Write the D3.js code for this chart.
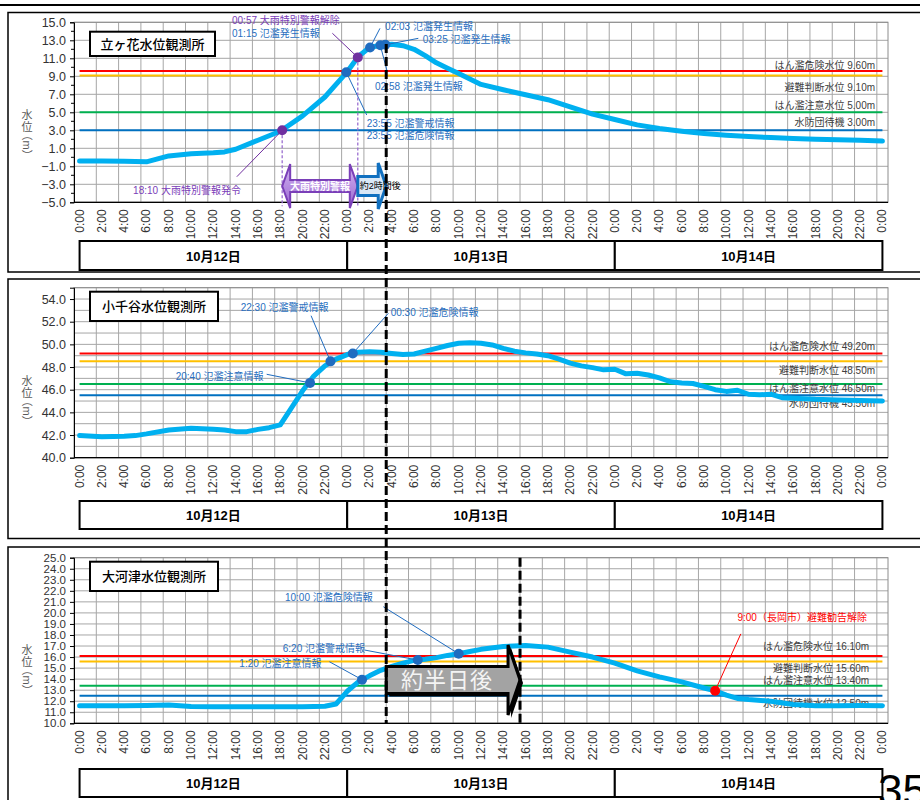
<!DOCTYPE html>
<html>
<head>
<meta charset="utf-8">
<script src="https://cdn.jsdelivr.net/npm/d3@7"></script>
<style>
  body { margin: 0; background: #fff; }
  svg { display: block; font-family: "Liberation Sans", "Noto Sans CJK JP", sans-serif; }
</style>
</head>
<body>
<svg width="920" height="800"></svg>
<script>
// hours counted from 10/12 0:00
const dayHours = ["0:00", "2:00", "4:00", "6:00", "8:00", "10:00", "12:00", "14:00", "16:00", "18:00", "20:00", "22:00"];
const timeLabels = [...dayHours, ...dayHours, ...dayHours, "0:00"];
const dayLabels = ["10月12日", "10月13日", "10月14日"];
const stationNames = ["立ヶ花水位観測所", "小千谷水位観測所", "大河津水位観測所"];

// 立ヶ花
const hoursA = [0, 2, 4, 6, 8, 10, 12, 13, 14, 16, 18, 20, 22, 23, 24, 25, 26, 27, 28, 29, 30, 31, 32, 33, 34, 36, 38, 40, 42, 44, 46, 48, 50, 52, 54, 56, 58, 60, 62, 64, 66, 68, 70, 72];
const levelA = [-0.4, -0.4, -0.45, -0.5, 0.15, 0.4, 0.5, 0.6, 0.9, 1.9, 2.9, 4.6, 6.7, 8.1, 9.5, 11.2, 12.2, 12.45, 12.55, 12.4, 12.0, 11.3, 10.5, 9.9, 9.3, 8.1, 7.5, 6.95, 6.4, 5.6, 4.8, 4.2, 3.6, 3.2, 2.9, 2.65, 2.45, 2.3, 2.2, 2.1, 2.0, 1.95, 1.9, 1.8];

// 小千谷
const hoursB = [0, 2, 4, 5, 6, 8, 10, 12, 13, 14, 15, 16, 17, 18, 19, 20, 21, 22, 23, 24, 25, 26, 27, 28, 29, 30, 31, 32, 33, 34, 35, 36, 37, 38, 39, 40, 41, 42, 43, 44, 45, 46, 47, 48, 49, 50, 51, 52, 53, 54, 55, 56, 57, 58, 59, 60, 61, 62, 63, 64, 65, 66, 68, 70, 72];
const levelB = [41.95, 41.85, 41.9, 41.95, 42.1, 42.45, 42.6, 42.5, 42.45, 42.3, 42.3, 42.5, 42.65, 42.9, 44.4, 45.9, 47.2, 48.1, 48.7, 49.1, 49.3, 49.35, 49.3, 49.2, 49.1, 49.15, 49.4, 49.65, 49.9, 50.1, 50.15, 50.1, 49.95, 49.65, 49.4, 49.25, 49.15, 49.0, 48.7, 48.35, 48.1, 47.95, 47.75, 47.8, 47.4, 47.45, 47.3, 47.05, 46.7, 46.6, 46.55, 46.3, 46.0, 45.85, 45.95, 45.6, 45.55, 45.6, 45.3, 45.25, 45.2, 45.15, 45.1, 45.05, 45.0];

// 大河津
const hoursC = [0, 2, 4, 6, 8, 10, 12, 14, 16, 18, 20, 22, 23, 24, 25, 26, 27, 28, 29, 30, 31, 32, 33, 34, 35, 36, 38, 40, 42, 44, 46, 48, 50, 52, 54, 56, 57, 58, 59, 60, 62, 64, 66, 68, 70, 72];
const levelC = [11.6, 11.6, 11.6, 11.62, 11.65, 11.52, 11.5, 11.5, 11.5, 11.5, 11.5, 11.55, 11.75, 12.9, 13.75, 14.3, 14.8, 15.15, 15.45, 15.7, 15.8, 15.95, 16.15, 16.3, 16.5, 16.7, 16.95, 17.05, 16.9, 16.45, 16.0, 15.45, 14.75, 14.2, 13.75, 13.2, 12.95, 12.55, 12.25, 12.15, 12.0, 11.7, 11.6, 11.6, 11.62, 11.6];

// reference water levels
const thresholdNames = [
  ["はん濫危険水位", "避難判断水位", "はん濫注意水位", "水防団待機"],
  ["はん濫危険水位", "避難判断水位", "はん濫注意水位", "水防団待機"],
  ["はん濫危険水位", "避難判断水位", "はん濫注意水位", "水防団待機水位"],
];
const thresholdA = [9.6, 9.1, 5.0, 3.0];
const thresholdB = [49.2, 48.5, 46.5, 45.5];
const thresholdC = [16.1, 15.6, 13.4, 12.5];

// announcements: hour, level on the curve, texts
const eventHourA = [18.17, 23.92, 24.95, 26.05, 26.97, 27.42];
const eventLevelA = [3.0, 9.45, 11.1, 12.2, 12.45, 12.5];
const eventTextA = [
  ["18:10 大雨特別警報発令"],
  ["23:55 氾濫警戒情報", "23:55 氾濫危険情報"],
  ["00:57 大雨特別警報解除", "01:15 氾濫発生情報"],
  ["02:03 氾濫発生情報"],
  ["02:58 氾濫発生情報"],
  ["03:25 氾濫発生情報"],
];
const eventHourB = [20.67, 22.5, 24.5];
const eventLevelB = [46.6, 48.5, 49.2];
const eventTextB = [["20:40 氾濫注意情報"], ["22:30 氾濫警戒情報"], ["00:30 氾濫危険情報"]];
const eventHourC = [25.33, 30.33, 34, 57];
const eventLevelC = [13.95, 15.73, 16.3, 12.95];
const eventTextC = [["1:20 氾濫注意情報"], ["6:20 氾濫警戒情報"], ["10:00 氾濫危険情報"], ["9:00（長岡市）避難勧告解除"]];

const rainWarningSpan = [18.17, 24.95];
const leadSpanA = [24.95, 27.5];
const peakShiftSpan = [27.5, 39.5];

// ---- layout ----
const W = 920;
const x = d3.scaleLinear([-0.5, 72.5], [74, 888]);
const thColors = ["#ff0000", "#ffc000", "#00b050", "#0070c0"];
const blueText = "#2a6fc0";
const purple = "#7a3cb8";
const textColor = (t) => (t.includes("大雨") ? purple : t.includes("避難") ? "#ff0000" : blueText);

const panels = [
  {
    hours: hoursA, levels: levelA, th: thresholdA, thNames: thresholdNames[0],
    thLabelAt: [9.81, 7.37, 5.37, 3.51], thLabelHour: 71.34,
    evHour: eventHourA, evLevel: eventLevelA, evText: eventTextA,
    // [text hour, text level, leader end hour, leader end level]
    notes: [[4.8, -4.08, 14.1, -2.16], [25.75, 3.42, 25.75, 4.7], [13.67, 14.8, 22.67, 13.78],
            [27.4, 14.14, 26.94, 14.33], [26.5, 7.48, 27.55, 9.7], [30.77, 12.7, 30.38, 13.22]],
    frame: [12.5, 272], plot: [22.3, 202.3], domain: [-5, 15],
    grid: d3.range(-5, 15.01, 2), labels: d3.range(-5, 15.01, 2), minor: d3.range(-4, 15, 2),
    dateBox: [241, 270], titleBox: [31.7, 56, 125], axisTitleY: 115,
  },
  {
    hours: hoursB, levels: levelB, th: thresholdB, thNames: thresholdNames[1],
    thLabelAt: [49.5, 47.38, 45.77, 44.44], thLabelHour: 71.34,
    evHour: eventHourB, evLevel: eventLevelB, evText: eventTextB,
    notes: [[8.62, 46.9, 16.78, 47.36], [14.45, 52.94, 20.76, 52.53], [27.9, 52.46, 27.69, 52.74]],
    frame: [279, 538.5], plot: [287.7, 457.7], domain: [40, 55],
    grid: d3.range(40, 55.01, 1), labels: d3.range(40, 54.01, 2), minor: [],
    dateBox: [501, 529], titleBox: [291.7, 321, 128], axisTitleY: 381,
  },
  {
    hours: hoursC, levels: levelC, th: thresholdC, thNames: thresholdNames[2],
    thLabelAt: [16.6, 14.65, 13.58, 11.52], thLabelHour: 70.8,
    evHour: eventHourC, evLevel: eventLevelC, evText: eventTextC,
    notes: [[14.33, 15.14, 22.4, 15.58], [18.22, 16.46, 25.54, 16.64], [18.42, 21.12, 27.24, 20.56], [59.0, 19.31, 59.3, 18.1]],
    frame: [547, 812], plot: [557.7, 723.3], domain: [10, 25],
    grid: d3.range(10, 25.01, 1), labels: d3.range(10, 25.01, 1), minor: [],
    dateBox: [769, 797], titleBox: [561.7, 591, 128], axisTitleY: 650,
  },
];

const svg = d3.select("svg");

// page rule at top
svg.append("line").attr("x1", 0).attr("x2", W).attr("y1", 5).attr("y2", 5)
  .attr("stroke", "#000").attr("stroke-width", 2);

function arrowPath(x0, x1, cy, body, head, len, double) {
  const p = d3.path();
  if (double) {
    p.moveTo(x0, cy);
    p.lineTo(x0 + len, cy - head);
    p.lineTo(x0 + len, cy - body);
  } else {
    p.moveTo(x0, cy - body);
  }
  p.lineTo(x1 - len, cy - body);
  p.lineTo(x1 - len, cy - head);
  p.lineTo(x1, cy);
  p.lineTo(x1 - len, cy + head);
  p.lineTo(x1 - len, cy + body);
  if (double) {
    p.lineTo(x0 + len, cy + body);
    p.lineTo(x0 + len, cy + head);
  } else {
    p.lineTo(x0, cy + body);
  }
  p.closePath();
  return p.toString();
}

const scales = [];

panels.forEach((p, pi) => {
  const y = d3.scaleLinear(p.domain, [p.plot[1], p.plot[0]]);
  scales.push(y);
  const g = svg.append("g");
  const [top, bottom] = p.plot;

  g.append("rect").attr("x", 8).attr("y", p.frame[0]).attr("width", 940).attr("height", p.frame[1] - p.frame[0])
    .attr("fill", "none").attr("stroke", "#000").attr("stroke-width", 1.5);

  // grid
  g.append("g").selectAll("line").data(d3.range(1.5, 72, 2)).join("line")
    .attr("x1", (d) => x(d)).attr("x2", (d) => x(d)).attr("y1", top).attr("y2", bottom)
    .attr("stroke", "#a6a6a6").attr("stroke-width", 1);
  g.append("g").selectAll("line").data(p.grid).join("line")
    .attr("x1", x(-0.5)).attr("x2", x(72.5)).attr("y1", (d) => y(d)).attr("y2", (d) => y(d))
    .attr("stroke", "#a6a6a6").attr("stroke-width", 1);
  g.append("rect").attr("x", x(-0.5)).attr("y", top).attr("width", x(72.5) - x(-0.5)).attr("height", bottom - top)
    .attr("fill", "none").attr("stroke", "#8c8c8c");

  // y axis
  const yAxis = g.append("g").attr("transform", `translate(${x(-0.5)},0)`)
    .call(d3.axisLeft(y).tickValues(p.labels).tickFormat(d3.format(".1f")).tickSize(4).tickPadding(4));
  yAxis.select(".domain").attr("stroke", "#000");
  yAxis.selectAll("text").attr("font-size", pi === 2 ? 11.5 : 12.5).attr("fill", "#333")
    .attr("font-family", "Liberation Sans");
  g.append("g").selectAll("line").data(p.minor).join("line")
    .attr("x1", x(-0.5) - 3).attr("x2", x(-0.5)).attr("y1", (d) => y(d)).attr("y2", (d) => y(d))
    .attr("stroke", "#000");
  g.append("line").attr("x1", x(-0.5)).attr("x2", x(72.5)).attr("y1", bottom).attr("y2", bottom)
    .attr("stroke", "#000").attr("stroke-width", 1.2);

  // x labels
  g.append("g").selectAll("text").data(timeLabels).join("text")
    .attr("transform", (d, i) => `translate(${x(i * 2) + 4},${bottom + 7}) rotate(-90)`)
    .attr("text-anchor", "end").attr("font-size", 12).attr("fill", "#333").text((d) => d);

  // date boxes
  const days = g.append("g").selectAll("g").data(dayLabels).join("g");
  days.append("rect")
    .attr("x", (d, i) => x(i * 24)).attr("y", p.dateBox[0])
    .attr("width", (d, i) => x(i * 24 + 24) - x(i * 24)).attr("height", p.dateBox[1] - p.dateBox[0])
    .attr("fill", "#fff").attr("stroke", "#000").attr("stroke-width", 2);
  days.append("text")
    .attr("x", (d, i) => (x(i * 24) + x(i * 24 + 24)) / 2).attr("y", (p.dateBox[0] + p.dateBox[1]) / 2 + 5)
    .attr("text-anchor", "middle").attr("font-size", 13).attr("font-weight", "bold").text((d) => d);

  // axis title
  const at = g.append("g").attr("fill", "#595959").attr("font-size", 11);
  at.append("text").attr("x", 27).attr("y", p.axisTitleY + 4).attr("text-anchor", "middle").text("水");
  at.append("text").attr("x", 27).attr("y", p.axisTitleY + 16).attr("text-anchor", "middle").text("位");
  at.append("text").attr("transform", `translate(23,${p.axisTitleY + 30}) rotate(90)`)
    .attr("text-anchor", "middle").text("（m）");

  // station title
  g.append("rect").attr("x", 90).attr("y", p.titleBox[0]).attr("width", p.titleBox[2])
    .attr("height", p.titleBox[1] - p.titleBox[0]).attr("fill", "#fff").attr("stroke", "#000").attr("stroke-width", 2);
  g.append("text").attr("x", 90 + p.titleBox[2] / 2).attr("y", (p.titleBox[0] + p.titleBox[1]) / 2 + 5)
    .attr("text-anchor", "middle").attr("font-size", 13).attr("font-weight", 500).text(stationNames[pi]);

  // reference levels
  g.append("g").selectAll("line").data(p.th).join("line")
    .attr("x1", x(0)).attr("x2", x(72)).attr("y1", (d) => y(d)).attr("y2", (d) => y(d))
    .attr("stroke", (d, i) => thColors[i]).attr("stroke-width", 2);
  g.append("g").selectAll("text").data(p.th).join("text")
    .attr("x", x(p.thLabelHour)).attr("y", (d, i) => y(p.thLabelAt[i]))
    .attr("text-anchor", "end").attr("font-size", 10).attr("fill", "#404040")
    .text((d, i) => `${p.thNames[i]} ${d.toFixed(2)}m`);

  // water level
  const pts = p.hours.map((h, i) => [h, p.levels[i]]);
  g.append("path").datum(pts)
    .attr("d", d3.line().x((d) => x(d[0])).y((d) => y(d[1])))
    .attr("fill", "none").attr("stroke", "#00b0f0").attr("stroke-width", 5)
    .attr("stroke-linejoin", "round").attr("stroke-linecap", "round");

  // announcements
  const markColor = (i) => {
    const t = p.evText[i][0];
    return t.includes("大雨") ? "#7030a0" : t.includes("避難") ? "#ff0000" : "#1f6cc0";
  };
  g.append("g").selectAll("line").data(p.notes).join("line")
    .attr("x1", (d, i) => x(p.evHour[i])).attr("y1", (d, i) => y(p.evLevel[i]))
    .attr("x2", (d) => x(d[2])).attr("y2", (d) => y(d[3]))
    .attr("stroke", (d, i) => markColor(i)).attr("stroke-width", 1);
  const notes = g.append("g").selectAll("text").data(p.notes).join("text")
    .attr("x", (d) => x(d[0])).attr("y", (d) => y(d[1])).attr("font-size", 10);
  notes.selectAll("tspan").data((d, i) => p.evText[i].map((t) => ({ t, x: x(d[0]) }))).join("tspan")
    .attr("x", (d) => d.x).attr("dy", (d, j) => (j ? 12.5 : 0))
    .attr("fill", (d) => textColor(d.t)).text((d) => d.t);

  if (pi === 0) {
    // dotted guides for the heavy rain warning period
    g.append("g").selectAll("line").data([0, 2]).join("line")
      .attr("x1", (d) => x(p.evHour[d])).attr("x2", (d) => x(p.evHour[d]))
      .attr("y1", (d) => y(p.evLevel[d])).attr("y2", bottom + 4)
      .attr("stroke", "#9b6fd0").attr("stroke-width", 1.3).attr("stroke-dasharray", "3,2");
  }

  g.append("g").selectAll("circle").data(p.evHour).join("circle")
    .attr("cx", (d) => x(d)).attr("cy", (d, i) => y(p.evLevel[i])).attr("r", 5)
    .attr("fill", (d, i) => markColor(i));
});

const [yA, yB, yC] = scales;

// 大雨特別警報 period
const defs = svg.append("defs");
const grad = defs.append("linearGradient").attr("id", "rainGrad").attr("x1", 0).attr("x2", 0).attr("y1", 0).attr("y2", 1);
grad.append("stop").attr("offset", "0%").attr("stop-color", "#d2b4f0");
grad.append("stop").attr("offset", "100%").attr("stop-color", "#9a66d2");

const cyA = yA(-3.2);
svg.append("path")
  .attr("d", arrowPath(x(rainWarningSpan[0]), x(rainWarningSpan[1]), cyA, 6, 22, 8, true))
  .attr("fill", "url(#rainGrad)").attr("stroke", "#7a3fb8").attr("stroke-width", 2);
svg.append("text").attr("x", (x(rainWarningSpan[0]) + x(rainWarningSpan[1])) / 2).attr("y", cyA + 4)
  .attr("text-anchor", "middle").attr("font-size", 10).attr("font-weight", "bold").attr("fill", "#fff")
  .text("大雨特別警報");

svg.append("path")
  .attr("d", arrowPath(x(leadSpanA[0]), x(leadSpanA[1]), cyA, 9.5, 23, 8, false))
  .attr("fill", "#dae8f6").attr("stroke", "#1070c0").attr("stroke-width", 3);
svg.append("text").attr("x", x(leadSpanA[0]) + 2).attr("y", cyA + 3)
  .attr("font-size", 9).attr("fill", "#000").text("約2時間後");

// 約半日後
const cyC = yC(13.92);
const halfDay = arrowPath(x(peakShiftSpan[0]), x(peakShiftSpan[1]), cyC, 13.5, 35, 12, false);
svg.append("path").attr("d", halfDay).attr("transform", "translate(3,3)").attr("fill", "#000");
svg.append("path").attr("d", halfDay).attr("fill", "#a3a3a3").attr("stroke", "#000").attr("stroke-width", 3);
svg.append("text").attr("x", (x(peakShiftSpan[0]) + x(peakShiftSpan[1]) - 12) / 2).attr("y", cyC + 8)
  .attr("text-anchor", "middle").attr("font-size", 22).attr("fill", "#f4f4f4").attr("letter-spacing", 1)
  .text("約半日後");

// peak-time dashed lines
svg.append("line").attr("x1", x(peakShiftSpan[0])).attr("x2", x(peakShiftSpan[0]))
  .attr("y1", yA(12.6)).attr("y2", yC(10))
  .attr("stroke", "#000").attr("stroke-width", 3).attr("stroke-dasharray", "9,4");
svg.append("line").attr("x1", x(peakShiftSpan[1])).attr("x2", x(peakShiftSpan[1]))
  .attr("y1", yC(25)).attr("y2", yC(10))
  .attr("stroke", "#000").attr("stroke-width", 3).attr("stroke-dasharray", "9,4");

// page number (cut by the page edge, as in the source)
svg.append("text").attr("x", 878).attr("y", 806).attr("font-size", 44).text("35");
</script>
</body>
</html>
